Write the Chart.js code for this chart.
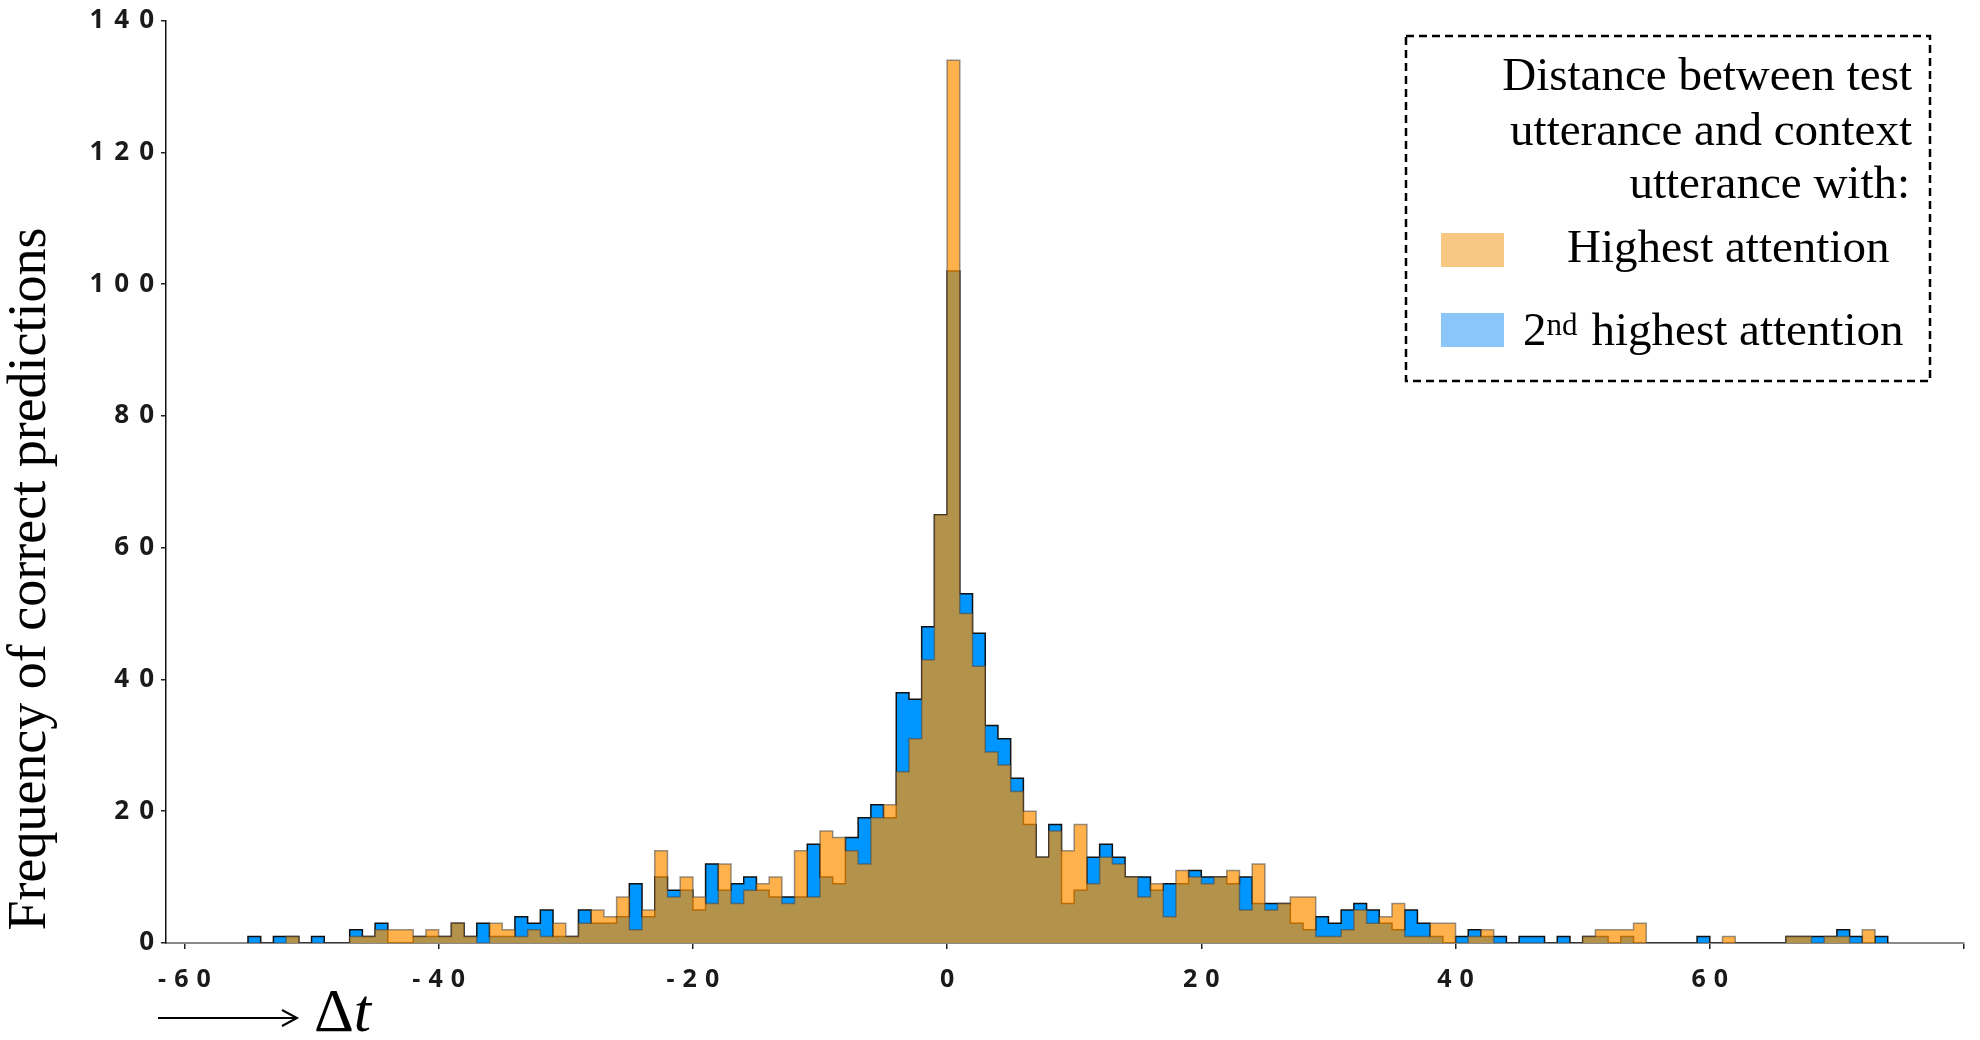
<!DOCTYPE html>
<html>
<head>
<meta charset="utf-8">
<title>Frequency of correct predictions</title>
<script src="https://cdn.jsdelivr.net/npm/chart.js@4.4.1/dist/chart.umd.min.js"></script>
<style>
  html, body { margin: 0; padding: 0; background: #fff; }
</style>
</head>
<body>
<canvas id="hist" width="1980" height="1040"></canvas>
<script>
// histogram bins are [k, k+1), first bin starts at -55
const firstBin = -55;

// Highest attention (orange)
const highest = [
  0, 0, 0, 1, 0, 0, 0, 0, 1, 1,
  2, 2, 2, 1, 2, 1, 3, 1, 0, 3,
  2, 1, 2, 1, 3, 1, 3, 5, 4, 7,
  2, 5, 14, 7, 10, 7, 6, 12, 6, 8,
  9, 10, 6, 14, 7, 17, 16, 14, 12, 19,
  21, 26, 31, 43, 65, 134, 50, 42, 29, 27,
  23, 20, 13, 17, 14, 18, 9, 13, 12, 10,
  7, 9, 4, 11, 10, 9, 10, 11, 5, 12,
  5, 6, 7, 7, 1, 1, 2, 5, 3, 4,
  6, 1, 1, 3, 3, 0, 1, 2, 0, 0,
  0, 0, 0, 0, 0, 1, 2, 2, 2, 3,
  0, 0, 0, 0, 0, 0, 1, 0, 0, 0,
  0, 1, 1, 0, 1, 1, 0, 2, 0
];

// 2nd highest attention (blue)
const second = [
  1, 0, 1, 1, 0, 1, 0, 0, 2, 1,
  3, 0, 0, 1, 1, 1, 3, 1, 3, 1,
  1, 4, 3, 5, 1, 1, 5, 3, 3, 4,
  9, 4, 10, 8, 8, 5, 12, 8, 9, 10,
  8, 7, 7, 7, 15, 10, 9, 16, 19, 21,
  19, 38, 37, 48, 65, 102, 53, 47, 33, 31,
  25, 18, 13, 18, 6, 8, 13, 15, 13, 10,
  10, 8, 9, 9, 11, 10, 10, 9, 10, 6,
  6, 6, 3, 2, 4, 3, 5, 6, 5, 3,
  2, 5, 3, 1, 0, 1, 2, 1, 1, 0,
  1, 1, 0, 1, 0, 1, 1, 0, 1, 0,
  0, 0, 0, 0, 1, 0, 0, 0, 0, 0,
  0, 1, 1, 1, 1, 2, 1, 0, 1
];

const xTickLabels = [-60, -40, -20, 0, 20, 40, 60];
const yTickLabels = [0, 20, 40, 60, 80, 100, 120, 140];

const yTitle = 'Frequency of correct predictions';
const legendTitle = ['Distance between test', 'utterance and context', 'utterance with:'];
const seriesNames = ['Highest attention', 'highest attention'];

// step outline: one point per bin left edge, closed down to zero
function steps(vals) {
  const pts = [{ x: firstBin, y: 0 }];
  vals.forEach((v, i) => pts.push({ x: firstBin + i, y: v }));
  pts.push({ x: firstBin + vals.length, y: 0 });
  return pts;
}

// wider letter spacing on tick labels, like the original
// (canvas adds the spacing after the last glyph too, so shift back)
const spacedTicks = {
  id: 'spacedTicks',
  beforeDraw(chart) {
    [['x', 8, 4], ['y', 10, 8]].forEach(([id, sp, dx]) => {
      const s = chart.scales[id];
      if (s._spaced) return;
      const orig = s.drawLabels.bind(s);
      s.drawLabels = area => {
        chart.ctx.save();
        chart.ctx.letterSpacing = sp + 'px';
        chart.ctx.translate(dx, 0);
        orig(area);
        chart.ctx.restore();
      };
      s._spaced = true;
    });
  }
};

const decorations = {
  id: 'decorations',
  afterDraw(chart) {
    const c = chart.ctx;
    c.save();
    c.fillStyle = '#000';

    // y axis title
    c.save();
    c.translate(45, 579);
    c.rotate(-Math.PI / 2);
    c.font = '54px "Liberation Serif"';
    c.textAlign = 'center';
    c.textBaseline = 'alphabetic';
    c.fillText(yTitle, 0, 0);
    c.restore();

    // x axis label: long arrow and Δt
    c.strokeStyle = '#000';
    c.lineWidth = 2;
    c.beginPath();
    c.moveTo(158, 1018);
    c.lineTo(296, 1018);
    c.moveTo(282, 1010);
    c.lineTo(297, 1018);
    c.lineTo(282, 1026);
    c.stroke();
    c.textBaseline = 'alphabetic';
    c.textAlign = 'left';
    c.font = '62px "Liberation Serif"';
    c.fillText('Δ', 314, 1031);
    const dw = c.measureText('Δ').width;
    c.font = 'italic 62px "Liberation Serif"';
    c.fillText('t', 314 + dw, 1031);

    // legend box
    c.setLineDash([8, 5]);
    c.lineWidth = 2.5;
    c.strokeRect(1406, 36, 524, 345);
    c.setLineDash([]);

    c.font = '47px "Liberation Serif"';
    c.textAlign = 'right';
    c.fillText(legendTitle[0], 1912, 90);
    c.fillText(legendTitle[1], 1912, 145);
    c.fillText(legendTitle[2], 1910, 198);

    c.fillStyle = '#f8c882';
    c.fillRect(1441, 233, 63, 34);
    c.fillStyle = '#8ac6fa';
    c.fillRect(1441, 313, 63, 34);

    c.fillStyle = '#000';
    c.textAlign = 'left';
    c.fillText(seriesNames[0], 1567, 262);
    c.fillText('2', 1523, 345);
    const w2 = c.measureText('2').width;
    c.font = '31px "Liberation Serif"';
    c.fillText('nd', 1523 + w2, 335);
    const wnd = c.measureText('nd').width;
    c.font = '47px "Liberation Serif"';
    c.fillText(seriesNames[1], 1523 + w2 + wnd + 14, 345);

    c.restore();
  }
};

new Chart(document.getElementById('hist'), {
  type: 'line',
  data: {
    datasets: [{
      label: 'Highest attention',
      data: steps(highest),
      stepped: 'before',
      fill: 'origin',
      backgroundColor: 'rgba(255, 146, 0, 0.7)',
      borderColor: 'rgba(70, 70, 70, 0.55)',
      borderWidth: 1.5,
      pointRadius: 0
    }, {
      label: '2nd highest attention',
      data: steps(second),
      stepped: 'before',
      fill: 'origin',
      backgroundColor: '#0096ff',
      borderColor: '#111',
      borderWidth: 1.5,
      pointRadius: 0
    }]
  },
  options: {
    responsive: false,
    animation: false,
    layout: { padding: { top: 16, right: 8, left: 0, bottom: 0 } },
    plugins: { legend: { display: false }, tooltip: { enabled: false } },
    scales: {
      x: {
        type: 'linear',
        min: -61.45,
        max: 80,
        offset: false,
        afterFit: s => { s.height = 97; },
        grid: { drawOnChartArea: false, drawTicks: true, tickLength: 6, color: '#222', lineWidth: 1.5, offset: false },
        border: { color: '#8a8a8a', width: 2 },
        ticks: {
          stepSize: 20,
          includeBounds: false,
          autoSkip: false,
          maxRotation: 0,
          padding: 16,
          color: '#1a1a1a',
          font: { family: 'Open Sans', weight: 'bold', size: 25 },
          callback: v => xTickLabels.includes(v) ? String(v) : ''
        }
      },
      y: {
        min: 0,
        max: 140,
        afterFit: s => { s.width = 166; },
        grid: { drawOnChartArea: false, drawTicks: true, tickLength: 5, color: '#222', lineWidth: 1.5 },
        border: { color: '#111', width: 1.5 },
        ticks: {
          stepSize: 20,
          padding: 5,
          color: '#1a1a1a',
          font: { family: 'Open Sans', weight: 'bold', size: 26 },
          callback: v => yTickLabels.includes(v) ? String(v) : ''
        }
      }
    }
  },
  plugins: [spacedTicks, decorations]
});
</script>
</body>
</html>
